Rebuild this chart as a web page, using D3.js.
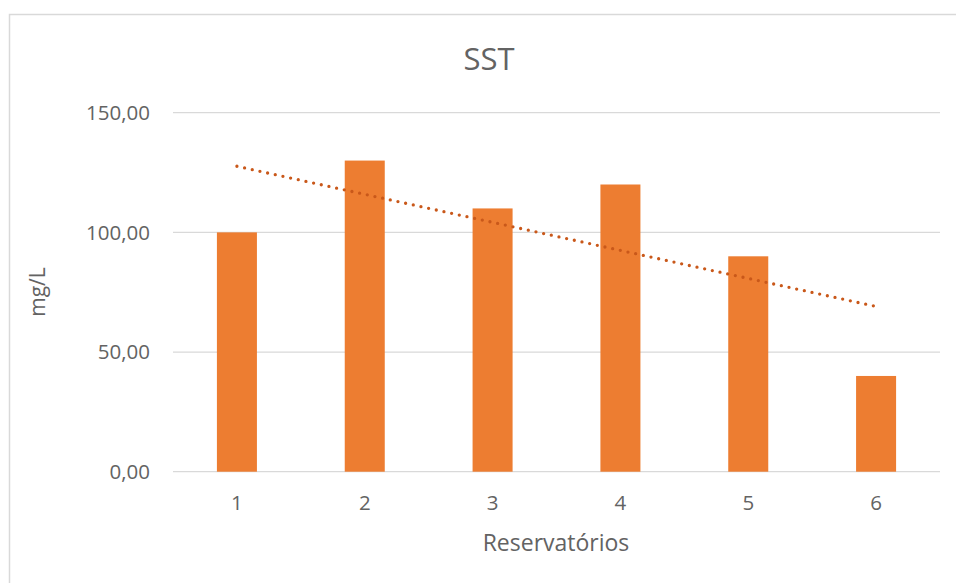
<!DOCTYPE html>
<html>
<head>
<meta charset="utf-8">
<script src="https://cdn.jsdelivr.net/npm/d3@7"></script>
<style>
  html, body { margin: 0; padding: 0; background: #fff; }
  svg { display: block; font-family: "Open Sans", sans-serif; }
</style>
</head>
<body>
<svg id="chart" width="956" height="583"></svg>
<script>
// Sólidos suspensos totais por reservatório
const categories = ["1", "2", "3", "4", "5", "6"];
const values = [100, 130, 110, 120, 90, 40];
const yTicks = [0, 50, 100, 150];
const title = "SST";
const xTitle = "Reservatórios";
const yTitle = "mg/L";

const W = 956, H = 583;
const margin = { left: 173, right: 16, top: 112.7, bottom: 111.3 };
const svg = d3.select("#chart");

// chart area frame
svg.append("rect")
  .attr("x", 9.5).attr("y", 14.5)
  .attr("width", W + 20).attr("height", H + 20)
  .attr("fill", "#fff").attr("stroke", "#d9d9d9").attr("stroke-width", 1.5);

const x = d3.scaleBand().domain(categories)
  .range([margin.left, W - margin.right]).paddingInner(0.687).paddingOuter(0.3435);
const y = d3.scaleLinear().domain([0, 150]).range([H - margin.bottom, margin.top]);
const fmt = v => d3.format(".2f")(v).replace(".", ",");

// gridlines
svg.append("g").selectAll("line").data(yTicks).join("line")
  .attr("x1", margin.left).attr("x2", W - margin.right)
  .attr("y1", d => y(d)).attr("y2", d => y(d))
  .attr("stroke", "#d9d9d9").attr("stroke-width", 1.2);

// y tick labels
svg.append("g").selectAll("text").data(yTicks).join("text")
  .attr("x", 150).attr("y", d => y(d))
  .attr("dy", "0.36em")
  .attr("text-anchor", "end")
  .attr("font-size", 20.5).attr("fill", "#636363")
  .text(fmt);

// bars
svg.append("g").selectAll("rect").data(values).join("rect")
  .attr("x", (d, i) => x(categories[i]))
  .attr("y", d => y(d))
  .attr("width", x.bandwidth())
  .attr("height", d => y(0) - y(d))
  .attr("fill", "#ED7D31");

// x tick labels
svg.append("g").selectAll("text").data(categories).join("text")
  .attr("x", d => x(d) + x.bandwidth() / 2)
  .attr("y", 510)
  .attr("text-anchor", "middle")
  .attr("font-size", 20.5).attr("fill", "#636363")
  .text(d => d);

// linear trend (least squares) over category index
const n = values.length;
const xs = values.map((d, i) => i + 1);
const mx = d3.mean(xs), my = d3.mean(values);
const slope = d3.sum(xs, (xi, i) => (xi - mx) * (values[i] - my)) / d3.sum(xs, xi => (xi - mx) ** 2);
const icpt = my - slope * mx;
const trend = [1, n].map(k => [x(categories[k - 1]) + x.bandwidth() / 2, y(icpt + slope * k)]);
svg.append("path")
  .attr("d", d3.line()(trend))
  .attr("fill", "none")
  .attr("stroke", "#C9581A")
  .attr("stroke-width", 3.3)
  .attr("stroke-linecap", "round")
  .attr("stroke-dasharray", "0 7.85");

// titles
svg.append("text")
  .attr("x", 489).attr("y", 70)
  .attr("text-anchor", "middle")
  .attr("font-size", 31).attr("fill", "#636363")
  .text(title);

svg.append("text")
  .attr("x", 556).attr("y", 551)
  .attr("text-anchor", "middle")
  .attr("font-size", 23).attr("fill", "#636363")
  .text(xTitle);

svg.append("text")
  .attr("transform", "translate(45,292) rotate(-90)")
  .attr("text-anchor", "middle")
  .attr("font-size", 21).attr("fill", "#636363")
  .text(yTitle);
</script>
</body>
</html>
